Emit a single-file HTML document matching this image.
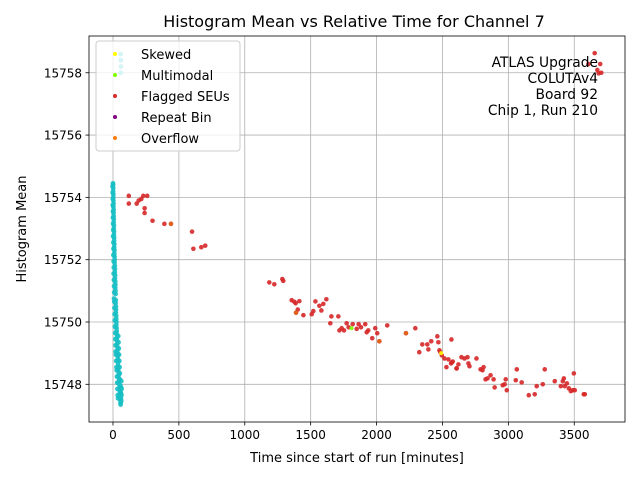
<!DOCTYPE html>
<html><head><meta charset="utf-8">
<style>
html,body{margin:0;padding:0;background:#fff;}
svg{display:block;font-family:"DejaVu Sans","Liberation Sans",sans-serif;}
</style></head>
<body>
<svg id="chart" width="640" height="480" viewBox="0 0 640 480">
<rect x="0" y="0" width="640" height="480" fill="#fff"/>
<text x="354" y="27" text-anchor="middle" font-size="16" fill="#000">Histogram Mean vs Relative Time for Channel 7</text>
<g id="grid"></g>
<g id="marks"></g>
<g id="axes"></g>
<text x="357" y="462" text-anchor="middle" font-size="13" fill="#000">Time since start of run [minutes]</text>
<text x="26" y="229" text-anchor="middle" font-size="13" fill="#000" transform="rotate(-90 26 229)">Histogram Mean</text>
<g font-size="13.8" fill="#000" text-anchor="end">
<text x="598" y="67">ATLAS Upgrade</text>
<text x="598" y="83">COLUTAv4</text>
<text x="598" y="99">Board 92</text>
<text x="598" y="115">Chip 1, Run 210</text>
</g>
<g>
<rect x="96" y="41" width="144" height="110" rx="3" fill="#fff" fill-opacity="0.8" stroke="#ccc"/>
<g><circle cx="115" cy="54" r="2" fill="#ffff00"/><text x="141" y="59" font-size="13">Skewed</text></g>
<g><circle cx="115" cy="75" r="2" fill="#7fff00"/><text x="141" y="80" font-size="13">Multimodal</text></g>
<g><circle cx="115" cy="96" r="2" fill="#d62728"/><text x="141" y="101" font-size="13">Flagged SEUs</text></g>
<g><circle cx="115" cy="117" r="2" fill="#800080"/><text x="141" y="122" font-size="13">Repeat Bin</text></g>
<g><circle cx="115" cy="138" r="2" fill="#ff7f0e"/><text x="141" y="143" font-size="13">Overflow</text></g>
</g>
</svg>
<script>
const xTicks=[0,500,1000,1500,2000,2500,3000,3500];
const yTicks=[15748,15750,15752,15754,15756,15758];
const cyanX=[0,1,2,1,3,2,3,4,3,5,4,5,6,5,7,6,8,7,9,8,10,9,11,10,12,13,12,14,15,14,16,15,17,18,17,19,20,21,20,22,23,22,24,25,26,25,27,28,29,30,31,32,33,34,35,36,37,38,39,40,42,43,44,46,47,49,50,52,53,55,57,58,60,61,62,63,58,60];
const cyanY=[15754.45,15754.4,15754.3,15754.2,15754.1,15754.0,15753.9,15753.8,15753.7,15753.6,15753.5,15753.4,15753.3,15753.2,15753.1,15753.0,15752.9,15752.8,15752.7,15752.6,15752.5,15752.4,15752.3,15752.2,15752.1,15752.0,15751.9,15751.8,15751.7,15751.6,15751.5,15751.4,15751.3,15751.2,15751.1,15751.0,15750.9,15750.7,15750.6,15750.5,15750.4,15750.3,15750.2,15750.1,15750.0,15749.9,15749.8,15749.7,15749.6,15749.5,15749.4,15749.3,15749.2,15749.1,15749.0,15748.9,15748.8,15748.7,15748.6,15748.5,15748.4,15748.3,15748.2,15748.1,15748.0,15747.9,15747.8,15747.7,15747.6,15747.5,15747.4,15747.35,15747.5,15747.7,15747.9,15748.1,15758.6,15758.2];
const cyanX2=[-3,-2,-1,-2,0,0,1,2,1,3,4,3,5,6,5,7,8,9,8,10,11,12,13,14,16,18,19,20,22,24,26,28,30,32,34,36,38,40,42,44,46,48,50,52,54,56,58,60,62,64,65,58,60];
const cyanY2=[15754.35,15754.15,15753.95,15753.75,15753.55,15753.35,15753.15,15752.95,15752.75,15752.55,15752.35,15752.15,15751.95,15751.75,15751.55,15751.35,15751.15,15750.95,15750.75,15750.65,15750.45,15750.25,15750.05,15749.85,15749.65,15749.45,15749.25,15749.05,15748.95,15748.75,15748.55,15748.45,15748.25,15748.05,15747.85,15747.65,15747.55,15749.55,15749.35,15749.15,15748.95,15748.75,15748.55,15748.35,15748.15,15747.95,15747.75,15747.55,15747.45,15747.65,15747.85,15758.0,15758.4];
const redX=[120,120,195,180,230,215,260,240,240,300,390,440,600,610,670,700,
1186,1224,1285,1292,1356,1376,1386,1414,1402,1389,1445,1508,1520,1536,1566,1581,1596,1619,1657,1710,1649,1718,1735,1753,1773,1788,1819,1849,1864,1882,1914,1925,1937,1967,1990,2005,2021,2081,2223,2294,2324,2347,2385,2393,2415,2461,2469,2477,2484,2495,2515,2530,2545,2568,2570,2606,2621,
2565,2578,2608,2644,2667,2690,2697,2705,2758,2789,2804,2812,2827,2842,2865,2888,2896,2957,2972,2980,2988,3064,3056,3101,3155,3200,3215,3261,3276,3352,3398,3413,3421,3444,3428,3459,3474,3489,3504,3497,3572,3580,
3655,3607,3697,3675,3685,3705];
const redY=[15754.05,15753.8,15753.9,15753.8,15754.05,15753.95,15754.05,15753.65,15753.5,15753.25,15753.15,15753.15,15752.9,15752.35,15752.4,15752.45,
15751.27,15751.21,15751.38,15751.32,15750.7,15750.65,15750.6,15750.67,15750.4,15750.3,15750.22,15750.25,15750.35,15750.66,15750.52,15750.37,15750.58,15750.73,15750.18,15750.18,15749.96,15749.73,15749.8,15749.73,15749.96,15749.83,15749.93,15749.78,15749.93,15749.83,15749.93,15749.67,15749.73,15749.48,15749.8,15749.64,15749.38,15749.89,15749.64,15749.8,15749.03,15749.28,15749.28,15749.12,15749.38,15749.54,15749.35,15749.09,15749.03,15748.93,15748.83,15748.55,15748.8,15749.44,15748.7,15748.51,15748.64,
15748.67,15748.73,15748.51,15748.87,15748.83,15748.87,15748.67,15748.58,15748.83,15748.48,15748.45,15748.55,15748.16,15748.19,15748.29,15748.16,15747.9,15747.97,15748.0,15748.16,15747.81,15748.48,15748.13,15748.06,15747.65,15747.68,15747.94,15748.0,15748.48,15748.1,15747.94,15748.1,15748.19,15748.03,15747.94,15747.87,15747.78,15747.81,15747.81,15748.35,15747.68,15747.68,
15758.63,15758.28,15758.28,15758.09,15757.98,15758.0];
const orangeX=[1389,2223,440,2021];
const orangeY=[15750.3,15749.64,15753.15,15749.38];
const yellowX=[2490];
const yellowY=[15749.0];
const greenX=[1810];
const greenY=[15749.8];

const L=89,R=625,T=36,B=422;
const xMin=-182,xMax=3885,yMin=15746.79,yMax=15759.18;
function sx(v){return L+(v-xMin)/(xMax-xMin)*(R-L);}
function sy(v){return B-(v-yMin)/(yMax-yMin)*(B-T);}
const NS='http://www.w3.org/2000/svg';
const grid=document.getElementById('grid'),axes=document.getElementById('axes'),marks=document.getElementById('marks');
function mk(tag,attrs,parent){const e=document.createElementNS(NS,tag);for(const k in attrs)e.setAttribute(k,attrs[k]);parent.appendChild(e);return e;}
xTicks.forEach(t=>{
  const x=sx(t);
  const g=mk('line',{x1:x,x2:x,y1:T,y2:B,stroke:'#b0b0b0','stroke-width':0.8},grid);
  
  
  const tk=mk('line',{x1:x,x2:x,y1:B,y2:B+3.5,stroke:'#000','stroke-width':0.8},axes);
  
  
  const tx=mk('text',{x:x,y:B+17,'text-anchor':'middle','font-size':12,fill:'#000'},axes);
  tx.textContent=t;
  
  
});
yTicks.forEach(t=>{
  const y=sy(t);
  const g=mk('line',{x1:L,x2:R,y1:y,y2:y,stroke:'#b0b0b0','stroke-width':0.8},grid);
  
  
  const tk=mk('line',{x1:L-3.5,x2:L,y1:y,y2:y,stroke:'#000','stroke-width':0.8},axes);
  
  
  const tx=mk('text',{x:L-7,y:y+4.5,'text-anchor':'end','font-size':12,fill:'#000'},axes);
  tx.textContent=t;
  
  
});
const frame=mk('rect',{x:L,y:T,width:R-L,height:B-T,fill:'none',stroke:'#000','stroke-width':0.8},axes);


function series(xs,ys,color,name,r){
  for(let i=0;i<xs.length;i++){
    const c=mk('circle',{cx:sx(xs[i]),cy:sy(ys[i]),r:r,fill:color,'fill-opacity':0.9},marks);
    
    
  }
}
series(cyanX,cyanY,'#17bfc4','normal-point',2.4);
series(cyanX2,cyanY2,'#17bfc4','normal-point',2.4);
series(redX,redY,'#d62728','flagged-seu-point',2.3);
series(orangeX,orangeY,'#e0661a','overflow-point',2.2);
series(yellowX,yellowY,'#ffff00','skewed-point',2);
series(greenX,greenY,'#7fff00','multimodal-point',2);
</script>
</body></html>
